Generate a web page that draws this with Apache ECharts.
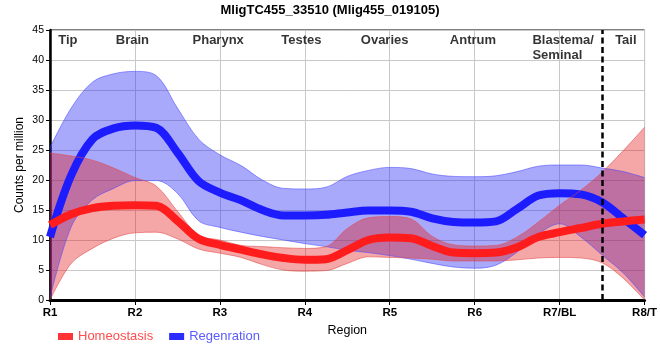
<!DOCTYPE html>
<html><head><meta charset="utf-8">
<script src="https://cdn.jsdelivr.net/npm/echarts@6/dist/echarts.min.js"></script>
<style>html,body{margin:0;padding:0;background:#fff}#c{width:660px;height:360px}</style>
</head><body><div id="c"></div>
<script>
// positions along the body (R1 = 1 ... R8/T = 8), sampled every quarter region
const xs = [1, 1.25, 1.5, 1.75, 2, 2.25, 2.5, 2.75, 3, 3.25, 3.5, 3.75, 4, 4.25, 4.5, 4.75, 5, 5.25, 5.5, 5.75, 6, 6.25, 6.5, 6.75, 7, 7.25, 7.5, 7.75, 8];
const tickLabels = ['R1', 'R2', 'R3', 'R4', 'R5', 'R6', 'R7/BL', 'R8/T'];

const homeoMean  = [12.5, 14.3, 15.3, 15.7, 15.8, 15.7, 13.2, 10.2, 9.2, 8.4, 7.6, 7.0, 6.7, 6.8, 8.3, 10.0, 10.4, 10.3, 9.0, 7.9, 7.8, 7.9, 8.8, 10.5, 11.3, 12.0, 12.7, 13.1, 13.4];
const homeoUpper = [24.5, 24.0, 23.3, 22.0, 20.4, 19.0, 14.8, 10.8, 10.0, 9.1, 8.9, 8.7, 8.6, 8.9, 11.9, 13.7, 13.9, 13.5, 10.6, 9.2, 9.0, 9.1, 10.5, 13.0, 15.8, 18.3, 21.3, 24.9, 28.8];
const homeoLower = [0, 6.1, 8.6, 10.3, 11.2, 11.3, 10.2, 8.5, 7.8, 7.1, 5.9, 5.0, 4.8, 4.9, 6.1, 7.2, 7.1, 7.0, 6.8, 6.5, 6.5, 6.5, 6.7, 7.0, 7.1, 7.0, 6.2, 3.6, 0];

const regenMean  = [10.5, 20.8, 26.8, 28.6, 29.1, 28.7, 24.6, 19.8, 17.9, 16.6, 15.0, 14.1, 14.1, 14.2, 14.6, 14.9, 14.9, 14.7, 13.6, 13.0, 12.9, 13.1, 15.2, 17.4, 17.8, 17.6, 16.3, 13.6, 10.8];
const regenUpper = [25.4, 32.0, 36.3, 37.7, 38.1, 37.4, 32.0, 26.8, 24.2, 22.4, 20.0, 18.6, 18.5, 18.8, 20.6, 21.6, 22.1, 21.9, 21.0, 20.6, 20.55, 20.7, 21.4, 22.3, 22.5, 22.5, 22.0, 21.4, 20.4];
const regenLower = [0.3, 12.2, 16.7, 18.6, 19.9, 19.9, 17.8, 13.2, 12.1, 11.3, 10.6, 10.0, 9.4, 8.9, 8.3, 7.9, 7.4, 6.8, 6.1, 5.5, 5.3, 5.8, 8.0, 11.0, 12.7, 10.5, 7.5, 4.5, 0.5];

const regionNames = ['Tip', 'Brain', 'Pharynx', 'Testes', 'Ovaries', 'Antrum', 'Tail'];
const regionAnchorX = [1.21, 1.97, 2.98, 3.96, 4.94, 5.98, 7.78];
const blastemaText = 'Blastema/\nSeminal';
const blastemaAnchorX = 6.68;
const tailBoundary = 7.5;

const FONT = '"Liberation Sans", Arial, sans-serif';
const pair = (arr) => xs.map((x, i) => [x, arr[i]]);
const diff = (up, lo) => up.map((u, i) => +(u - lo[i]).toFixed(3));

const SM = 0.35;
// bands are drawn on a hidden category axis (same positions as xs) so that stacking is exact
function bandSeries(stack, lower, upper, fill, edge) {
  return [
    { type: 'line', xAxisIndex: 1, stack: stack, data: lower.slice(), smooth: SM, symbol: 'none', silent: true,
      lineStyle: { width: 1, color: edge } },
    { type: 'line', xAxisIndex: 1, stack: stack, data: diff(upper, lower), smooth: SM, symbol: 'none', silent: true,
      lineStyle: { width: 1, color: edge }, areaStyle: { color: fill, opacity: 1 } }
  ];
}

const chart = echarts.init(document.getElementById('c'), null, { renderer: 'canvas' });
const option = {
  animation: false,
  textStyle: { fontFamily: FONT },
  title: {
    text: 'MligTC455_33510 (Mlig455_019105)', left: 'center', top: -1,
    textStyle: { fontSize: 13, fontWeight: 'bold', color: '#000', fontFamily: FONT }
  },
  legend: {
    left: 53, top: 325, icon: 'rect', itemWidth: 15, itemHeight: 7, itemGap: 16,
    textStyle: { fontSize: 13, fontFamily: FONT },
    data: [
      { name: 'Homeostasis', textStyle: { color: '#ff4d4d' } },
      { name: 'Regenration', textStyle: { color: '#5a5aff' } }
    ]
  },
  grid: { left: 50, right: 10, top: 30, bottom: 60, show: true, borderColor: '#000', borderWidth: 1, containLabel: false },
  xAxis: [{
    type: 'value', min: 1, max: 8, interval: 1,
    name: 'Region', nameLocation: 'middle', nameGap: 24,
    nameTextStyle: { fontSize: 12.5, color: '#000', fontFamily: FONT },
    axisLine: { show: true, lineStyle: { color: '#000', width: 3 } },
    axisTick: { show: true, length: 5, lineStyle: { color: '#000', width: 1 } },
    axisLabel: { fontSize: 11.5, fontWeight: 'bold', color: '#000', margin: 7, fontFamily: FONT,
      formatter: (v) => tickLabels[Math.round(v) - 1] || '' },
    splitLine: { show: true, lineStyle: { color: '#c8c8c8', width: 1 } }
  }, {
    type: 'category', data: xs.map(String), boundaryGap: false, show: false,
    axisLine: { show: false }, axisTick: { show: false }, axisLabel: { show: false }, splitLine: { show: false }
  }],
  yAxis: {
    type: 'value', min: 0, max: 45, interval: 5,
    name: 'Counts per million', nameLocation: 'middle', nameGap: 24, nameMoveOverlap: false,
    nameTextStyle: { fontSize: 12, color: '#000', fontFamily: FONT },
    axisLine: { show: true, lineStyle: { color: '#000', width: 2.5 } },
    axisTick: { show: true, length: 4, lineStyle: { color: '#000', width: 1 } },
    axisLabel: { fontSize: 10.5, color: '#000', margin: 6, fontFamily: FONT },
    splitLine: { show: true, lineStyle: { color: '#c8c8c8', width: 1 } }
  },
  series: [
    ...bandSeries('regen', regenLower, regenUpper, 'rgba(40,40,245,0.40)', 'rgba(70,70,255,0.55)'),
    { name: 'Regenration', type: 'line', data: pair(regenMean), smooth: SM, symbol: 'none',
      lineStyle: { width: 8, color: '#1c1cff' }, itemStyle: { color: '#2c2cff' } },
    ...bandSeries('homeo', homeoLower, homeoUpper, 'rgba(228,20,20,0.38)', 'rgba(225,70,70,0.55)'),
    { name: 'Homeostasis', type: 'line', data: pair(homeoMean), smooth: SM, symbol: 'none',
      lineStyle: { width: 8, color: '#ff1c1c' }, itemStyle: { color: '#ff3535' } },
    { type: 'line', data: [], symbol: 'none', silent: true,
      markLine: { silent: true, symbol: ['none', 'none'], label: { show: false },
        lineStyle: { color: '#000', width: 2.5, type: [6, 3.5] },
        data: [{ xAxis: tailBoundary }] } },
    { type: 'scatter', symbolSize: 0, silent: true,
      data: regionNames.map((n, i) => ({ value: [regionAnchorX[i], 43.3], name: n })),
      label: { show: true, position: 'inside', formatter: (p) => p.name,
        fontSize: 13, fontWeight: 'bold', color: '#000', fontFamily: FONT } },
    { type: 'scatter', symbolSize: 0, silent: true,
      data: [{ value: [blastemaAnchorX, 44.5], name: blastemaText }],
      label: { show: true, position: 'inside', formatter: (p) => p.name, align: 'left', verticalAlign: 'top',
        lineHeight: 15, fontSize: 13, fontWeight: 'bold', color: '#000', fontFamily: FONT } }
  ]
};
chart.setOption(option);
</script>
</body></html>
